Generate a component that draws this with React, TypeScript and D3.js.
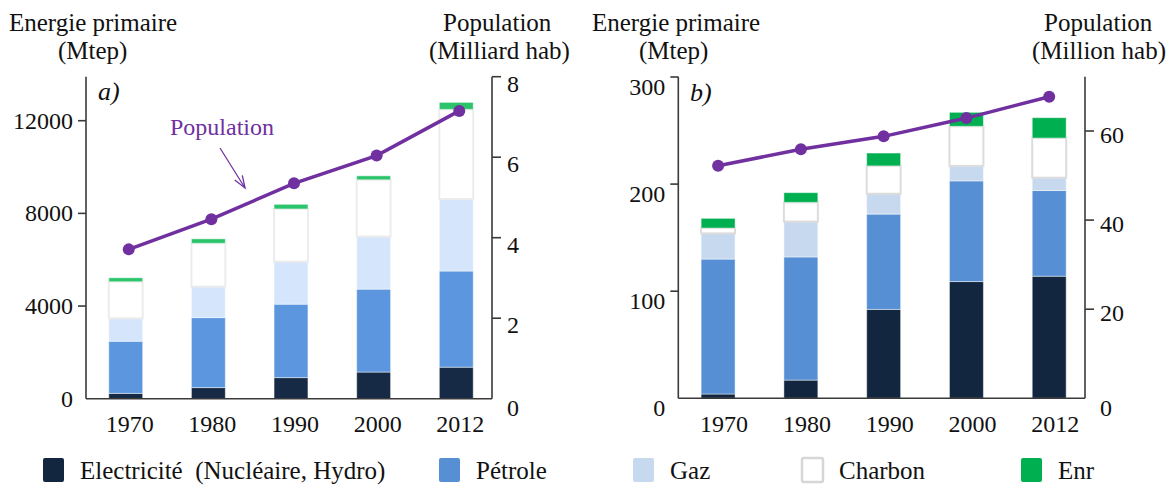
import React from "react";
import * as d3 from "d3";

const years = ["1970", "1980", "1990", "2000", "2012"];
const keys = ["electricite", "petrole", "gaz", "charbon", "enr"];
const legendLabels = ["Electricité  (Nucléaire, Hydro)", "Pétrole", "Gaz", "Charbon", "Enr"];

// a) monde, Mtep et milliards d'habitants
const worldElectricite = [230, 480, 910, 1150, 1360];
const worldPetrole = [2250, 3020, 3170, 3580, 4150];
const worldGaz = [990, 1340, 1840, 2270, 3110];
const worldCharbon = [1580, 1870, 2270, 2450, 3870];
const worldEnr = [170, 190, 200, 170, 300];
const worldPopulation = [3.71, 4.46, 5.35, 6.04, 7.15];

// b) France, Mtep et millions d'habitants
const frElectricite = [4, 17, 83, 109, 114];
const frPetrole = [126, 115, 89, 94, 80];
const frGaz = [24, 33, 19, 14, 12];
const frCharbon = [5, 18, 26, 37, 37];
const frEnr = [9, 9, 12, 13, 19];
const frPopulation = [52.2, 55.9, 58.8, 62.9, 67.7];

const worldEnergyTicks = [0, 4000, 8000, 12000];
const worldPopTicks = [0, 2, 4, 6, 8];
const frEnergyTicks = [0, 100, 200, 300];
const frPopTicks = [0, 20, 40, 60];

const FONT = "Liberation Serif, Times New Roman, DejaVu Serif, serif";
const PURPLE = "#7030a0";
const AXIS = "#3a3a3a";

const toRows = (cols: number[][]) =>
  years.map((y, i) => {
    const r: any = { year: y };
    keys.forEach((k, j) => (r[k] = cols[j][i]));
    return r;
  });

const Panel = ({ rows, pop, energyTicks, popTicks, energyMax, popMax, left, right, base, energyTopY, popTopY, colors, opts }: any) => {
  const axisTop = 76.7;
  const x = d3.scaleBand().domain(years).range([left - 2, right + 6]).paddingInner(0.59).paddingOuter(0.3);
  const y = d3.scaleLinear().domain([0, energyMax]).range([base, energyTopY]);
  const yp = d3.scaleLinear().domain([0, popMax]).range([base, popTopY]);
  const series = d3.stack().keys(keys)(rows);
  const cx = (yr: string) => (x(yr) as number) + x.bandwidth() / 2;
  const line = d3
    .line<number>()
    .x((_, i) => cx(years[i]) + opts.popDx)
    .y((d) => yp(d));

  return (
    <g style={{ fontFamily: FONT }} fill="#111">
      {series.map((s: any, si: number) => (
        <g key={keys[si]}>
          {s.map((d: any) => (
            <rect
              key={d.data.year}
              x={x(d.data.year)}
              y={y(d[1])}
              width={x.bandwidth()}
              height={Math.max(0, y(d[0]) - y(d[1]))}
              fill={colors[si]}
              stroke={keys[si] === "charbon" ? opts.charbonStroke : "rgba(255,255,255,0.45)"}
              strokeWidth={keys[si] === "charbon" ? 2 : 1}
            />
          ))}
        </g>
      ))}

      {/* axes */}
      <line x1={left} x2={right} y1={base} y2={base} stroke={AXIS} strokeWidth={1.6} />
      <line x1={left} x2={left} y1={axisTop} y2={base} stroke={AXIS} strokeWidth={1.6} />
      <line x1={right} x2={right} y1={axisTop} y2={base} stroke={AXIS} strokeWidth={1.6} />
      {energyTicks.map((t: number) => (
        <g key={"l" + t}>
          {t > 0 && <line x1={left - 8} x2={left} y1={y(t)} y2={y(t)} stroke={AXIS} strokeWidth={1.6} />}
          <text
            x={left - 13}
            y={y(t) + opts.leftShift}
            textAnchor="end"
            dominantBaseline="central"
            fontSize={24}
          >
            {t}
          </text>
        </g>
      ))}
      {popTicks.map((t: number) => (
        <g key={"r" + t}>
          {t > 0 && <line x1={right} x2={right + 9} y1={yp(t)} y2={yp(t)} stroke={AXIS} strokeWidth={1.6} />}
          <text
            x={right + 15}
            y={yp(t) + opts.rightShift + (t === 0 ? opts.rightZero : 0)}
            dominantBaseline="central"
            fontSize={24}
          >
            {t}
          </text>
        </g>
      ))}
      {years.map((yr) => (
        <text key={yr} x={cx(yr) + opts.labelDx} y={424} textAnchor="middle" dominantBaseline="central" fontSize={24}>
          {yr}
        </text>
      ))}

      {/* population */}
      <path d={line(pop) as string} fill="none" stroke={PURPLE} strokeWidth={3.5} />
      {pop.map((v: number, i: number) => (
        <circle key={i} cx={cx(years[i]) + opts.popDx} cy={yp(v)} r={6} fill={PURPLE} />
      ))}
    </g>
  );
};

const Arrow = ({ x1, y1, x2, y2 }: any) => {
  const a = Math.atan2(y2 - y1, x2 - x1);
  const h = 13;
  const p1 = [x2 - h * Math.cos(a - 0.35), y2 - h * Math.sin(a - 0.35)];
  const p2 = [x2 - h * Math.cos(a + 0.35), y2 - h * Math.sin(a + 0.35)];
  return (
    <g stroke={PURPLE} strokeWidth={1.3} fill="none">
      <line x1={x1} y1={y1} x2={x2} y2={y2} />
      <polyline points={`${p1[0]},${p1[1]} ${x2},${y2} ${p2[0]},${p2[1]}`} />
    </g>
  );
};

export default function App() {
  const worldRows = toRows([worldElectricite, worldPetrole, worldGaz, worldCharbon, worldEnr]);
  const frRows = toRows([frElectricite, frPetrole, frGaz, frCharbon, frEnr]);
  const colorsA = ["#172a45", "#5b96de", "#d4e5fc", "#ffffff", "#2cc46b"];
  const colorsB = ["#13263f", "#568fd4", "#c7d9ef", "#ffffff", "#00b050"];
  const legendColors = ["#13263f", "#568fd4", "#c7d9ef", "#ffffff", "#00b050"];
  const legendX = [43, 439, 633, 802, 1021];

  return (
    <svg width={1174} height={486} style={{ position: "absolute", left: 0, top: 0, background: "#fff", fontFamily: FONT }}>
      <rect width={1174} height={486} fill="#fff" />
      <g style={{ fontFamily: FONT }} fill="#111" fontSize={25}>
        <text x={9} y={31}>Energie primaire</text>
        <text x={58} y={59}>(Mtep)</text>
        <text x={443} y={31}>Population</text>
        <text x={429} y={59}>(Milliard hab)</text>
        <text x={592} y={31}>Energie primaire</text>
        <text x={639} y={59}>(Mtep)</text>
        <text x={1044} y={31}>Population</text>
        <text x={1032} y={59}>(Million hab)</text>
        <text x={98} y={100} fontStyle="italic" fontSize={26}>a)</text>
        <text x={690} y={101} fontStyle="italic" fontSize={26}>b)</text>
      </g>

      <Panel
        rows={worldRows}
        pop={worldPopulation}
        energyTicks={worldEnergyTicks}
        popTicks={worldPopTicks}
        energyMax={12000}
        popMax={8}
        left={86}
        right={492}
        base={398.7}
        energyTopY={120.7}
        popTopY={76.7}
        colors={colorsA}
        opts={{ leftShift: 0, rightShift: 7, rightZero: 2, popDx: 3, labelDx: 4, charbonStroke: "#ececec" }}
      />
      <Panel
        rows={frRows}
        pop={frPopulation}
        energyTicks={frEnergyTicks}
        popTicks={frPopTicks}
        energyMax={300}
        popMax={60}
        left={678.3}
        right={1085}
        base={398.3}
        energyTopY={77}
        popTopY={131}
        colors={colorsB}
        opts={{ leftShift: 10, rightShift: 4, rightZero: 6, popDx: 0, labelDx: 6, charbonStroke: "#dcdcdc" }}
      />

      <text x={170} y={135} style={{ fontFamily: FONT }} fontSize={24} fill={PURPLE}>Population</text>
      <Arrow x1={220} y1={148} x2={245} y2={188} />

      <g style={{ fontFamily: FONT }} fontSize={25} fill="#111">
        {legendLabels.map((lab, i) => (
          <g key={lab}>
            <rect
              x={legendX[i]}
              y={458}
              width={21}
              height={24}
              rx={2}
              fill={legendColors[i]}
              stroke={i === 3 ? "#d6d6d6" : "none"}
              strokeWidth={2.5}
            />
            <text x={legendX[i] + 37} y={470} dominantBaseline="central" style={{ whiteSpace: "pre" }}>
              {lab}
            </text>
          </g>
        ))}
      </g>
    </svg>
  );
}
